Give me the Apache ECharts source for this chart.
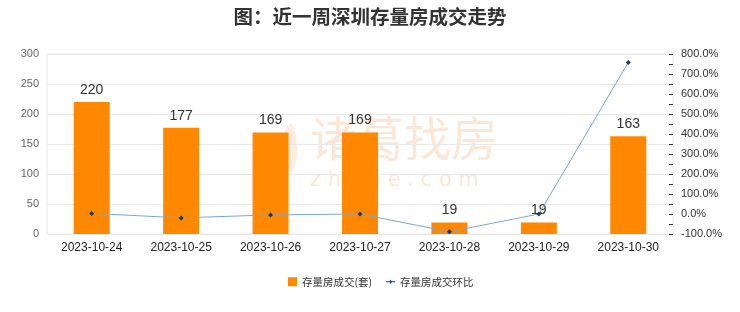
<!DOCTYPE html>
<html><head><meta charset="utf-8">
<script src="https://cdn.jsdelivr.net/npm/echarts@6/dist/echarts.min.js"></script>
<style>html,body{margin:0;padding:0;background:#fff}#c{width:740px;height:312px}</style>
</head><body><div id="c"></div>
<script>
var categories = ['2023-10-24','2023-10-25','2023-10-26','2023-10-27','2023-10-28','2023-10-29','2023-10-30'];
var deals = [220,177,169,169,19,19,163];
var ratio = [3,-19.5,-4.5,0,-88.8,0,757.9];
var chart = echarts.init(document.getElementById('c'));
chart.setOption({
  animation:false,
  title:{text:'图：近一周深圳存量房成交走势',left:'center',top:2,textStyle:{fontSize:19.5,fontWeight:'bold',color:'#333',fontFamily:'Noto Sans CJK SC'}},
  graphic:[
    {type:'ellipse',z:-10,shape:{cx:290,cy:148,rx:7,ry:24},style:{fill:'rgba(245,170,110,0.22)'}},
    {type:'text',z:-10,left:310,top:115,style:{text:'诸葛找房',fontSize:47,fontWeight:'normal',fill:'rgba(245,170,110,0.28)',fontFamily:'Noto Sans CJK SC'}},
    {type:'text',z:-10,left:310,top:170,style:{text:'z h u g e . c o m',fontSize:21,fill:'rgba(245,170,110,0.28)',fontFamily:'DejaVu Sans'}}
  ],
  grid:{left:47,right:67,top:54,bottom:78,show:true,borderColor:'#e8e8e8',borderWidth:1},
  legend:{bottom:20,left:283,itemGap:14,textStyle:{fontSize:10.5,color:'#333',fontFamily:'Noto Sans CJK SC'},
    data:[{name:'存量房成交(套)',icon:'rect',itemStyle:{color:'#FF8800'}},{name:'存量房成交环比',icon:'path://M0,5L4,5L5,3L6,5L10,5L10,6L6,6L5,8L4,6L0,6Z'}],
    itemWidth:9,itemHeight:9},
  xAxis:{type:'category',data:categories,axisLine:{show:false},axisTick:{show:false},
    axisLabel:{fontSize:12,color:'#222',margin:8}},
  yAxis:[
    {type:'value',min:0,max:300,interval:50,axisLine:{show:false},axisTick:{show:false},
      axisLabel:{fontSize:11,color:'#666'},splitLine:{lineStyle:{color:'#e8e8e8'}}},
    {type:'value',min:-100,max:800,interval:100,position:'right',axisLine:{show:false},
      axisTick:{show:true,inside:true,length:4,lineStyle:{color:'#333'}},
      minorTick:{show:true,splitNumber:2,length:4,lineStyle:{color:'#333'}},
      axisLabel:{fontSize:11,color:'#333',margin:8,formatter:function(v){return v.toFixed(1)+'%';}},
      splitLine:{show:false}}
  ],
  series:[
    {name:'存量房成交(套)',type:'bar',data:deals,barWidth:36,itemStyle:{color:'#FF8800'},
      label:{show:true,position:'top',fontSize:14,color:'#333'}},
    {name:'存量房成交环比',type:'line',yAxisIndex:1,data:ratio,symbol:'diamond',symbolSize:5,
      lineStyle:{color:'#7aa6d8',width:1},itemStyle:{color:'#1f3a60'}}
  ]
});
</script></body></html>
